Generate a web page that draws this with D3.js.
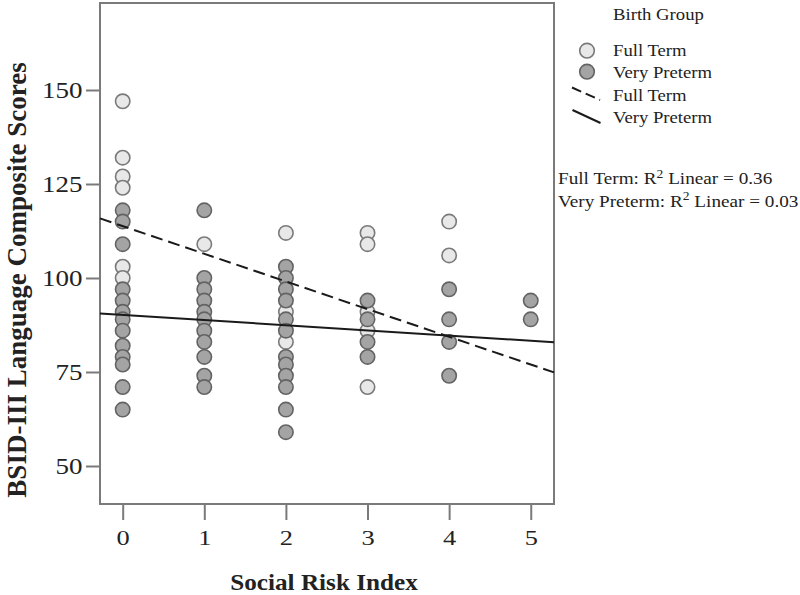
<!DOCTYPE html>
<html>
<head>
<meta charset="utf-8">
<script src="https://cdn.jsdelivr.net/npm/d3@7"></script>
<style>
  html, body { margin: 0; padding: 0; background: #fff; }
  svg { display: block; }
  text { font-family: "Liberation Serif", "Times New Roman", serif; fill: #222; }
</style>
</head>
<body>
<svg id="chart" width="800" height="595"></svg>
<script>
// ---------- data ----------
const riskTicks = [0, 1, 2, 3, 4, 5];
const scoreTicks = [50, 75, 100, 125, 150];

const fullTermX = [0, 0, 0, 0, 0, 0, 1, 2, 2, 2, 3, 3, 3, 3, 3, 4, 4];
const fullTermY = [147, 132, 127, 124, 103, 100, 109, 112, 91, 83, 112, 109, 91, 86, 71, 115, 106];

const pretermX = [0,0,0,0,0,0,0,0,0,0,0,0,0,
                  1,1,1,1,1,1,1,1,1,1,1,
                  2,2,2,2,2,2,2,2,2,2,2,2,
                  3,3,3,3,
                  4,4,4,4,
                  5,5];
const pretermY = [118,115,109,97,94,91,89,86,82,79,77,71,65,
                  118,100,97,94,91,89,86,83,79,74,71,
                  103,100,97,94,89,86,79,77,74,71,65,59,
                  94,89,83,79,
                  97,89,83,74,
                  94,89];

// fitted lines: [intercept, slope]
const fullTermFit = [113.8, -7.36];
const pretermFit = [90.2, -1.38];

const groupLabels = ["Full Term", "Very Preterm"];
const r2Values = ["0.36", "0.03"];

// ---------- layout ----------
const svg = d3.select("#chart");
const plotLeft = 100, plotRight = 554, plotTop = 3, plotBottom = 504;

const x = d3.scaleLinear().domain([-0.278, 5.285]).range([plotLeft, plotRight]);
const y = d3.scaleLinear().domain([50, 150]).range([466, 90]);

const frameColor = "#7a7a7a";
const lightFill = "#e8e8e8", lightStroke = "#7a7a7a";
const darkFill = "#a4a4a4", darkStroke = "#636363";

function stretchedText(parent, px, py, str, size, weight, anchor, sx) {
  const g = parent.append("g").attr("transform", `translate(${px},${py}) scale(${sx},1)`);
  return g.append("text")
    .attr("x", 0).attr("y", 0)
    .attr("font-size", size)
    .attr("font-weight", weight)
    .attr("text-anchor", anchor)
    .text(str);
}

// frame
svg.append("rect")
  .attr("x", plotLeft).attr("y", plotTop)
  .attr("width", plotRight - plotLeft).attr("height", plotBottom - plotTop)
  .attr("fill", "none").attr("stroke", frameColor).attr("stroke-width", 2);

// y axis
const yAxis = svg.append("g").attr("transform", `translate(${plotLeft},0)`)
  .call(d3.axisLeft(y).tickValues(scoreTicks).tickSize(14).tickFormat(d3.format("d")));
yAxis.select(".domain").remove();
yAxis.selectAll(".tick line").attr("stroke", frameColor).attr("stroke-width", 2);
yAxis.selectAll(".tick text")
  .attr("font-family", "Liberation Serif, Times New Roman, serif")
  .attr("font-size", 22.5)
  .attr("fill", "#222")
  .attr("x", -17.5 / 1.2)
  .attr("transform", "scale(1.2,1)");

// x axis
const xAxis = svg.append("g").attr("transform", `translate(0,${plotBottom})`)
  .call(d3.axisBottom(x).tickValues(riskTicks).tickSize(16).tickFormat(d3.format("d")));
xAxis.select(".domain").remove();
xAxis.selectAll(".tick line").attr("stroke", frameColor).attr("stroke-width", 2);
xAxis.selectAll(".tick text")
  .attr("font-family", "Liberation Serif, Times New Roman, serif")
  .attr("font-size", 22)
  .attr("fill", "#222")
  .attr("y", 41).attr("dy", 0)
  .attr("transform", "scale(1.2,1)");

// axis titles
stretchedText(svg, 324, 590, "Social Risk Index", 22.5, "bold", "middle", 1.12);
svg.append("text")
  .attr("transform", "translate(26,280) rotate(-90)")
  .attr("text-anchor", "middle")
  .attr("font-size", 27)
  .attr("font-weight", "bold")
  .text("BSID-III Language Composite Scores");

// points
const plot = svg.append("g");
const r = 7.2;
plot.selectAll("circle.ft")
  .data(fullTermX.map((d, i) => [d, fullTermY[i]]))
  .join("circle").attr("class", "ft")
  .attr("cx", d => x(d[0])).attr("cy", d => y(d[1])).attr("r", r)
  .attr("fill", lightFill).attr("stroke", lightStroke).attr("stroke-width", 1.6);
plot.selectAll("circle.vp")
  .data(pretermX.map((d, i) => [d, pretermY[i]]))
  .join("circle").attr("class", "vp")
  .attr("cx", d => x(d[0])).attr("cy", d => y(d[1])).attr("r", r)
  .attr("fill", darkFill).attr("stroke", darkStroke).attr("stroke-width", 1.6);

// fit lines
const [x0, x1] = x.domain();
const line = d3.line().x(d => x(d[0])).y(d => y(d[1]));
svg.append("path")
  .attr("d", line([[x0, fullTermFit[0] + fullTermFit[1] * x0], [x1, fullTermFit[0] + fullTermFit[1] * x1]]))
  .attr("stroke", "#1a1a1a").attr("stroke-width", 2).attr("fill", "none")
  .attr("stroke-dasharray", "12,6");
svg.append("path")
  .attr("d", line([[x0, pretermFit[0] + pretermFit[1] * x0], [x1, pretermFit[0] + pretermFit[1] * x1]]))
  .attr("stroke", "#1a1a1a").attr("stroke-width", 2).attr("fill", "none");

// legend
const lg = svg.append("g");
stretchedText(lg, 613, 19.5, "Birth Group", 17, "normal", "start", 1.1);
lg.append("circle").attr("cx", 587).attr("cy", 50.7).attr("r", 7.3)
  .attr("fill", lightFill).attr("stroke", lightStroke).attr("stroke-width", 1.6);
lg.append("circle").attr("cx", 587).attr("cy", 71.7).attr("r", 7.3)
  .attr("fill", darkFill).attr("stroke", darkStroke).attr("stroke-width", 1.6);
stretchedText(lg, 613, 56, groupLabels[0], 17, "normal", "start", 1.1);
stretchedText(lg, 613, 77.5, groupLabels[1], 17, "normal", "start", 1.1);
lg.append("line").attr("x1", 572).attr("y1", 87.5).attr("x2", 600).attr("y2", 100)
  .attr("stroke", "#1a1a1a").attr("stroke-width", 2).attr("stroke-dasharray", "10,5");
lg.append("line").attr("x1", 572.5).attr("y1", 110).attr("x2", 600.5).attr("y2", 123)
  .attr("stroke", "#1a1a1a").attr("stroke-width", 2);
stretchedText(lg, 613, 101, groupLabels[0], 17, "normal", "start", 1.1);
stretchedText(lg, 613, 123, groupLabels[1], 17, "normal", "start", 1.1);

// R² annotations
[184.3, 206.5].forEach((by, i) => {
  const t = stretchedText(lg, 558, by, "", 17, "normal", "start", 1.13);
  t.append("tspan").text(groupLabels[i] + ": R");
  t.append("tspan").attr("font-size", 12).attr("dy", -6.5).text("2");
  t.append("tspan").attr("dy", 6.5).text(" Linear = " + r2Values[i]);
});
</script>
</body>
</html>
